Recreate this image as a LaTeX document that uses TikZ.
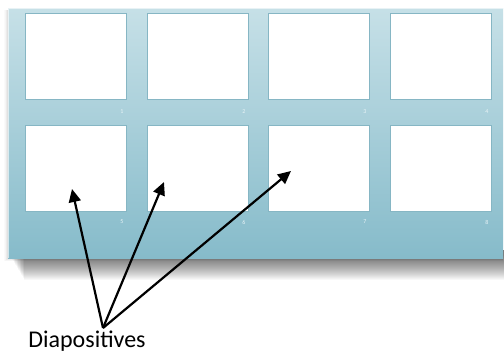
\documentclass[tikz,border=0pt]{standalone}
\usepackage{fontspec}
\setmainfont{Carlito}
\usetikzlibrary{arrows.meta}
\definecolor{paneltop}{HTML}{C6E0E7}
\definecolor{panelbot}{HTML}{86BBCA}
\definecolor{slideedge}{HTML}{86B6C4}
\definecolor{numcol}{HTML}{E8F3F6}
\tikzset{
  slide/.style={draw=slideedge, line width=0.9pt, fill=white, minimum width=101pt, minimum height=86pt, inner sep=0pt, anchor=north west},
  num/.style={text=numcol, font=\fontsize{6}{7}\selectfont, inner sep=0pt},
  pointer/.style={draw=black, line width=2.2pt, -{Triangle[length=13pt,width=12pt]}},
  label/.style={font=\fontsize{24}{28}\selectfont, inner sep=0pt}
}
\begin{document}
\begin{tikzpicture}[x=1pt,y=-1pt]
\useasboundingbox (0,0) rectangle (504,356);
\fill[white] (0,0) rectangle (504,356);
% soft shadow
\foreach \i in {0,...,24} {
  \fill[black, opacity=0.028] (10+\i*0.6,250) rectangle (504,256+\i*1.0);
}
\foreach \i in {0,...,6} {
  \fill[black, opacity=0.02] (8-\i*0.6,10) rectangle (503,258+\i*0.5);
}
% panel
\shade[top color=paneltop, bottom color=panelbot] (8,8) rectangle (503,258);
\draw[white, opacity=0.6, line width=0.8pt] (8.5,258) -- (8.5,8.5) -- (503,8.5);
% slides
\node[slide] (s1) at (25,13) {};
\node[slide] (s2) at (147,13) {};
\node[slide] (s3) at (268,13) {};
\node[slide] (s4) at (390,13) {};
\node[slide] (s5) at (25,125) {};
\node[slide] (s6) at (147,125) {};
\node[slide] (s7) at (268,125) {};
\node[slide] (s8) at (390,125) {};
% numbers
\node[num] (n1) at (122,112) {1};
\node[num] (n2) at (244,112) {2};
\node[num] (n3) at (365,112) {3};
\node[num] (n4) at (487,112) {4};
\node[num] (n5) at (122,222) {5};
\node[num] (n6) at (244,222) {6};
\node[num] (n7) at (365,222) {7};
\node[num] (n8) at (487,222) {8};
% label
\node[label, anchor=base] (lbl) at (87,347) {Diapositives};
\coordinate (src) at (103,328);
\coordinate (t5) at (72,189);
\coordinate (t6) at (164,182);
\coordinate (t7) at (291,171);
\draw[pointer] (src) -- (t5);
\draw[pointer] (src) -- (t6);
\draw[pointer] (src) -- (t7);
\end{tikzpicture}
\end{document}
